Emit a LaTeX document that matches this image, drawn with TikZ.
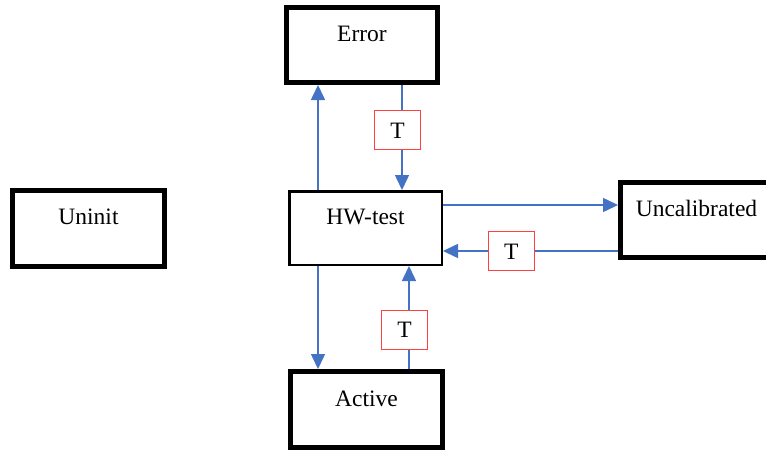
\documentclass[tikz,border=0pt]{standalone}
\usepackage{fontspec}
\setmainfont{Liberation Serif}
\usepackage{tikz}
\usetikzlibrary{arrows.meta,positioning}
\definecolor{lnblue}{HTML}{4472C4}
\definecolor{tred}{HTML}{FF4040}

\begin{document}
\begin{tikzpicture}[x=1pt,y=1pt,font=\fontsize{23.5}{27}\selectfont]
    \tikzstyle{st}=[draw,line width=5pt,minimum width=152pt,minimum height=75pt,text height=16pt,text depth=23pt,inner sep=0pt]
    \tikzstyle{tb}=[draw=tred,text=black,line width=1pt,fill=white,minimum width=46pt,minimum height=39pt,inner sep=0pt,text height=16pt,text depth=0pt]
    \tikzstyle{ar}=[lnblue,line width=1.5pt,-{Triangle[length=15pt,width=14pt]}]
    \useasboundingbox (0,0) rectangle (766,-452);
    \clip (0,0) rectangle (766,-452);
    \node[st,line width=2.5pt,minimum width=152.5pt,minimum height=73.5pt] (hw) at (365.5,-228) {HW-test};
    \node[st,minimum width=151pt,above=105pt of hw,xshift=-3.5pt]   (err) {Error};
    \node[st,minimum height=76pt,left=121pt of hw]                  (uni) {Uninit};
    \node[st,right=175pt of hw,yshift=8pt]                          (unc) {Uncalibrated};
    \node[st,minimum height=76pt,below=103pt of hw,xshift=1pt]      (act) {Active};
    % up / down between HW-test and Error
    \draw[ar] ([xshift=-47.5pt]hw.north) -- ([xshift=-47.5pt]hw.north |- err.south);
    \draw[ar] ([xshift=36.5pt]hw.north |- err.south) -- node[tb,pos=.43,xshift=-4.5pt]{T} ([xshift=36.5pt]hw.north);
    % to Uncalibrated and back
    \draw[ar] ([yshift=23pt]hw.east) -- ([yshift=23pt]hw.east -| unc.west);
    \draw[ar] ([yshift=-23pt]hw.east -| unc.west) -- node[tb,pos=.61]{T} ([yshift=-23pt]hw.east);
    % down / up between HW-test and Active
    \draw[ar] ([xshift=-47.5pt]hw.south) -- ([xshift=-47.5pt]hw.south |- act.north);
    \draw[ar] ([xshift=43.5pt]hw.south |- act.north) -- node[tb,pos=.38,xshift=-4.5pt]{T} ([xshift=43.5pt]hw.south);
  \end{tikzpicture}
\end{document}
